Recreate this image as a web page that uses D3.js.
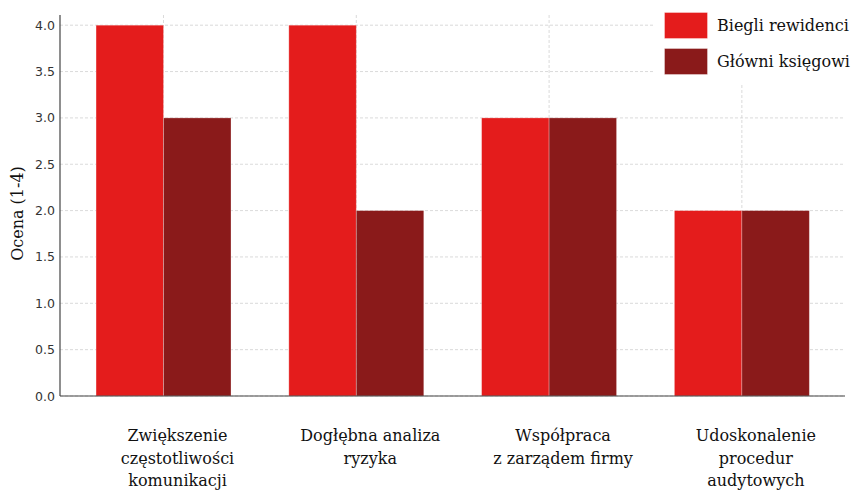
<!DOCTYPE html>
<html><head><meta charset="utf-8">
<script src="https://cdn.jsdelivr.net/npm/d3@7"></script>
<style>body{margin:0;background:#fff}svg{display:block}</style>
</head><body>
<script>
const categories = [
  ["Zwiększenie", "częstotliwości", "komunikacji"],
  ["Dogłębna analiza", "ryzyka"],
  ["Współpraca", "z zarządem firmy"],
  ["Udoskonalenie", "procedur", "audytowych"]
];
const seriesNames = ["Biegli rewidenci", "Główni księgowi"];
const auditors = [4, 4, 3, 2];
const accountants = [3, 2, 3, 2];
const yTicks = [0, 0.5, 1, 1.5, 2, 2.5, 3, 3.5, 4];
const yLabel = "Ocena (1-4)";
const colors = ["#e41c1c", "#8a1a1a"];

const W = 858, H = 492;
const svg = d3.select("body").append("svg").attr("width", W).attr("height", H);
const L = 60, R = 845, T = 15, B = 396;
const bw = 0.35;
const x = d3.scaleLinear().domain([-0.537, 3.535]).range([L, R]);
const y = d3.scaleLinear().domain([0, 4.11]).range([B, T]);
const serif = "'DejaVu Serif', serif";
const sans = "'DejaVu Sans', sans-serif";

// grid
const g = svg.append("g");
g.selectAll(".hg").data(yTicks).join("line")
  .attr("x1", L).attr("x2", R).attr("y1", d => y(d)).attr("y2", d => y(d))
  .attr("stroke", "#d0d0d0").attr("stroke-width", 0.8).attr("stroke-dasharray", "3,2");
g.selectAll(".vg").data(categories).join("line")
  .attr("x1", (d, i) => x(i)).attr("x2", (d, i) => x(i)).attr("y1", T).attr("y2", B)
  .attr("stroke", "#d0d0d0").attr("stroke-width", 0.8).attr("stroke-dasharray", "3,2");

// bars
const series = [auditors, accountants];
series.forEach((vals, s) => {
  svg.append("g").selectAll("rect").data(vals).join("rect")
    .attr("x", (d, i) => x(i - bw + s * bw))
    .attr("width", x(bw) - x(0))
    .attr("y", d => y(d))
    .attr("height", d => B - y(d))
    .attr("fill", colors[s])
    .attr("stroke", "rgba(255,255,255,0.35)").attr("stroke-width", 0.8);
});

// axes
svg.append("line").attr("x1", L).attr("x2", L).attr("y1", T).attr("y2", B)
  .attr("stroke", "#444").attr("stroke-width", 1.2);
svg.append("line").attr("x1", L).attr("x2", R).attr("y1", B).attr("y2", B)
  .attr("stroke", "#444").attr("stroke-width", 1.2);

svg.append("g").selectAll("text").data(yTicks).join("text")
  .attr("x", L - 5).attr("y", d => y(d)).attr("dy", "0.36em")
  .attr("text-anchor", "end").attr("font-family", sans).attr("font-size", 12.5)
  .attr("fill", "#333").text(d => d.toFixed(1));

// x labels
const xl = svg.append("g");
categories.forEach((lines, i) => {
  const t = xl.append("text").attr("text-anchor", "middle")
    .attr("font-family", serif).attr("font-size", 16).attr("fill", "#111");
  lines.forEach((ln, j) => {
    t.append("tspan").attr("x", x(i) + 14).attr("y", 441 + j * 22.5).text(ln);
  });
});

// y label
svg.append("text").attr("transform", `translate(23,${(T + B) / 2 + 8}) rotate(-90)`)
  .attr("text-anchor", "middle").attr("font-family", serif).attr("font-size", 16)
  .attr("fill", "#111").text(yLabel);

// legend
const lg = svg.append("g");
lg.append("rect").attr("x", 655).attr("y", 3).attr("width", 210).attr("height", 80).attr("fill", "#fff");
seriesNames.forEach((n, i) => {
  lg.append("rect").attr("x", 664.5).attr("y", 12.5 + i * 36).attr("width", 43).attr("height", 26)
    .attr("fill", colors[i]).attr("stroke", "rgba(255,255,255,0.35)");
  lg.append("text").attr("x", 717).attr("y", 25.5 + i * 36).attr("dy", "0.35em")
    .attr("font-family", serif).attr("font-size", 16).attr("fill", "#111").text(n);
});
</script>
</body></html>
